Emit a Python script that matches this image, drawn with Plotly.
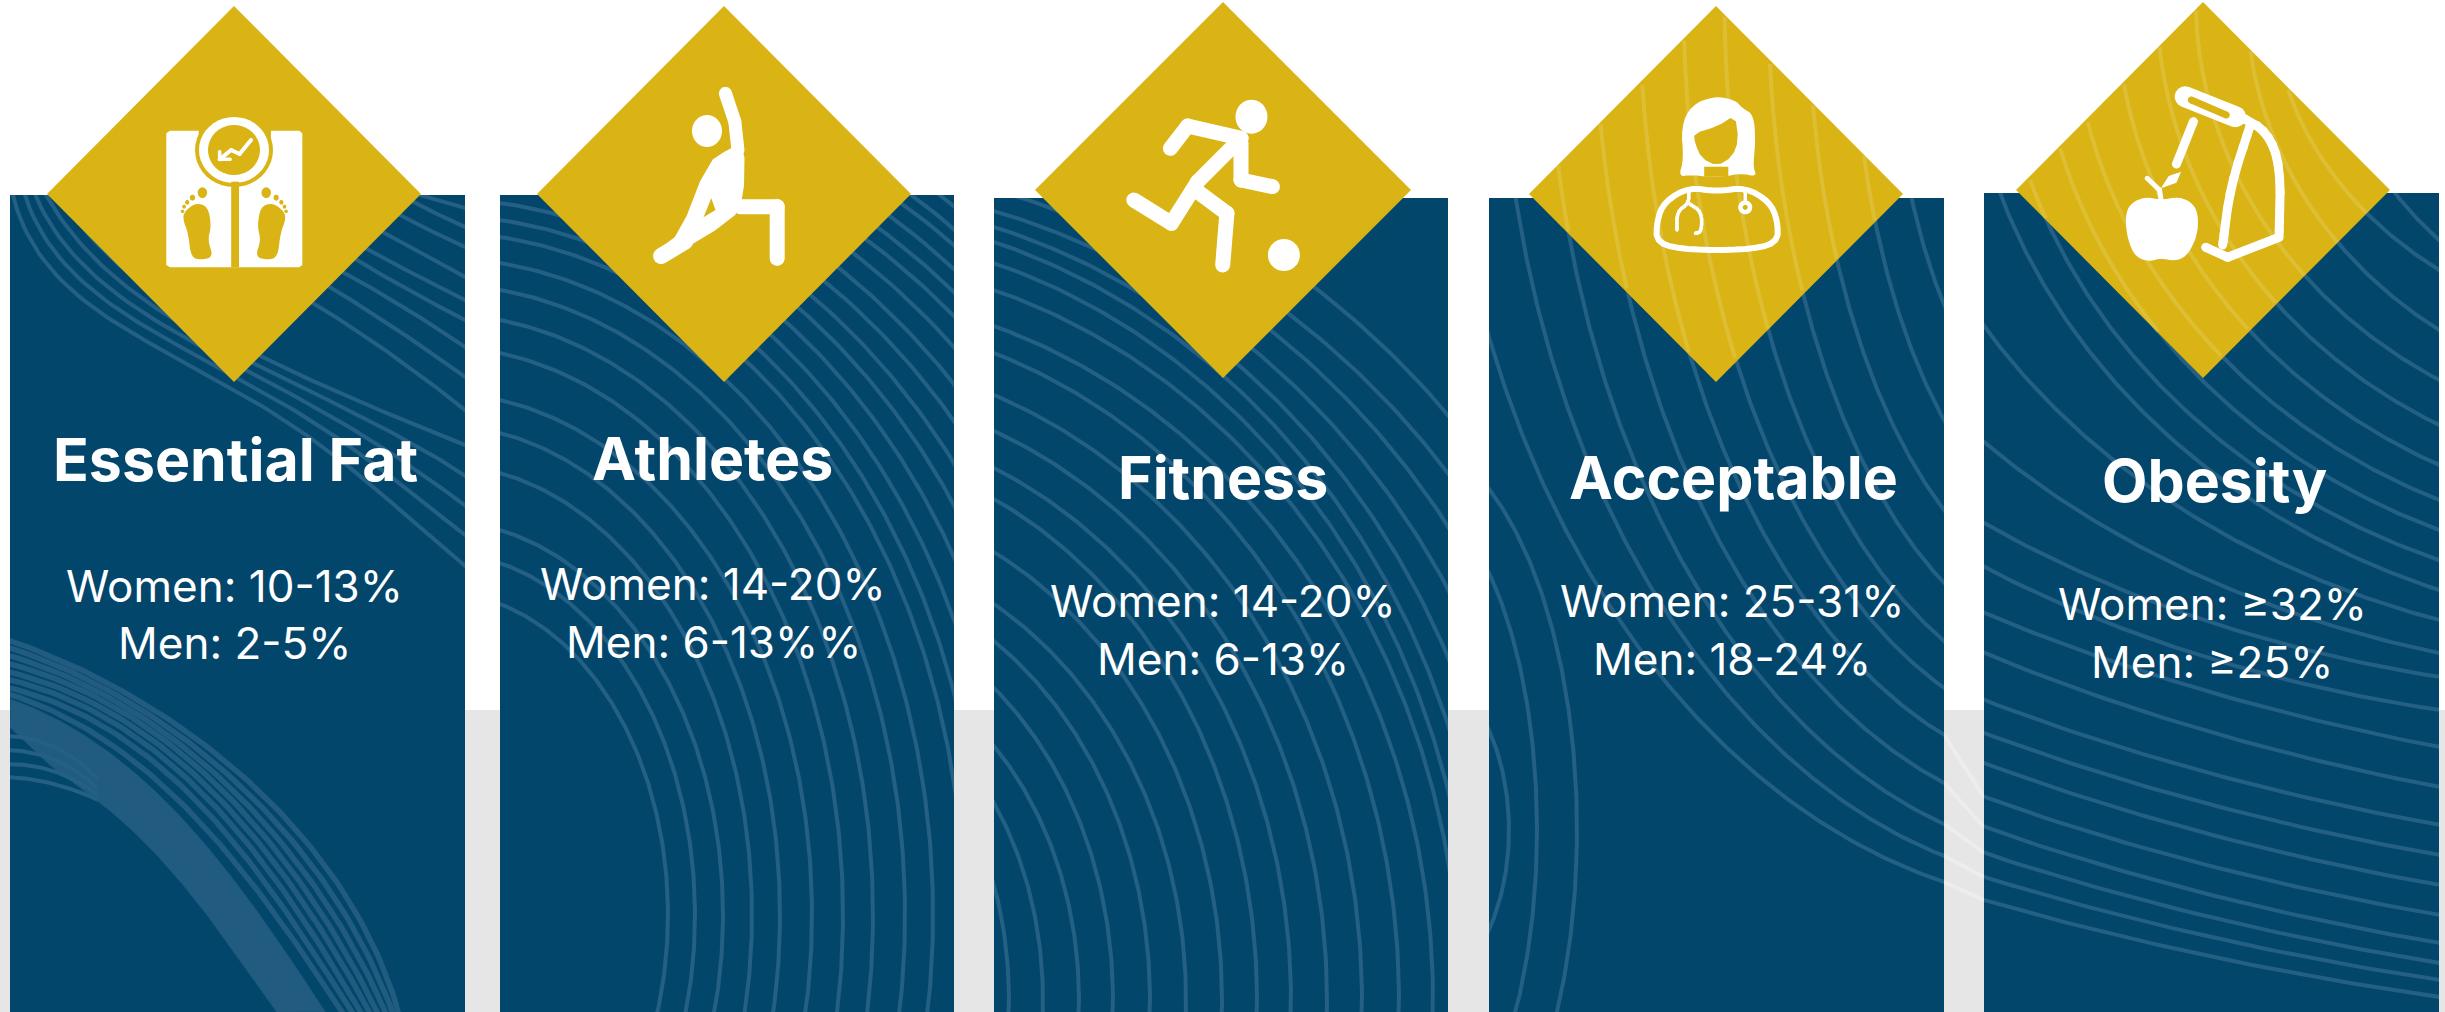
import numpy as np
import plotly.graph_objects as go

W, H = 2445, 1012
NAVY, STRIPE, RIBBON, GOLD, GREY, WHITE = "#03466C", "#245F84", "#215B7F", "#D9B414", "#E6E6E6", "#FFFFFF"
SHEEN = "rgba(255,255,255,0.14)"

categories = ["Essential Fat", "Athletes", "Fitness", "Acceptable", "Obesity"]
women = ["Women: 10-13%", "Women: 14-20%", "Women: 14-20%", "Women: 25-31%", "Women: ≥32%"]
men = ["Men: 2-5%", "Men: 6-13%%", "Men: 6-13%", "Men: 18-24%", "Men: ≥25%"]

panel_left = [10, 500, 994, 1489, 1984]
panel_right = [465, 954, 1448, 1944, 2439]
panel_top = [195, 195, 198, 198, 193]

diamond_cx = [234, 724, 1223, 1716, 2203]
diamond_cy = [194, 194, 190, 194, 190]
diamond_rx = [187, 187, 188, 187, 187]
diamond_ry = [188, 188, 188, 188, 188]

title_x = [235, 712, 1223, 1733, 2214]
title_base = [481, 480, 499, 499, 502]
body_x = [234, 713, 1223, 1732, 2212]
women_base = [602, 600, 617, 617, 620]
men_base = [659, 658, 675, 675, 678]

GREY_BAND_TOP = 710

# Free-form contours of the first column, as (x, y) anchors.
fat_upper = [
    [(10, 190), (43, 248), (93, 316), (167, 353), (233, 384), (333, 457), (465, 566)],
    [(22, 190), (55, 245), (105, 305), (175, 345), (245, 378), (345, 445), (465, 535)],
    [(32, 190), (66, 240), (115, 297), (185, 338), (260, 375), (360, 435), (465, 505)],
    [(42, 190), (78, 235), (125, 290), (195, 332), (275, 372), (375, 425), (465, 475)],
    [(55, 190), (90, 232), (135, 282), (205, 325), (290, 370), (390, 415), (465, 445)],
    [(300, 295), (385, 350), (465, 410)],
    [(310, 275), (390, 325), (465, 377)],
    [(330, 265), (400, 305), (465, 347)],
    [(340, 250), (405, 288), (465, 320)],
    [(350, 240), (410, 272), (465, 300)],
    [(370, 225), (420, 252), (465, 277)],
    [(380, 205), (425, 228), (465, 247)],
    [(400, 195), (435, 213), (465, 227)],
    [(420, 195), (445, 202), (465, 208)],
]
fat_ribbon = [
    [(10, 641), (100, 678), (200, 741), (300, 840), (367, 924), (397, 1012)],
    [(10, 648), (100, 686), (195, 745), (290, 845), (358, 928), (391, 1012)],
    [(10, 656), (95, 690), (190, 750), (282, 850), (350, 934), (384, 1012)],
    [(10, 664), (95, 697), (185, 754), (275, 855), (342, 940), (376, 1012)],
    [(10, 672), (90, 703), (180, 758), (267, 860), (335, 945), (368, 1012)],
    [(10, 680), (90, 710), (175, 765), (260, 865), (327, 950), (359, 1012)],
    [(10, 688), (85, 717), (170, 772), (252, 872), (320, 955), (350, 1012)],
    [(10, 695), (80, 724), (160, 782), (243, 877), (312, 960), (340, 1012)],
]
fat_tail = [
    [(10, 736), (50, 745), (94, 775)],
    [(10, 750), (50, 758), (94, 785)],
    [(10, 764), (50, 770), (94, 792)],
    [(10, 777), (50, 783), (94, 798)],
]
ribbon_inner = [(10, 700), (80, 730), (150, 790), (235, 880), (325, 1012)]
ribbon_outer = [(94, 798), (167, 866), (233, 950), (277, 1012)]
ribbon_tail = [(50, 765), (10, 727)]

# The other columns carry families of concentric arcs: a shared centre, then
# two points each arc passes through.
ATHLETE_CENTRE = (440, 915)
athlete_arcs = [
    ((500, 604), (668, 915)), ((500, 563), (695, 915)), ((500, 530), (723, 915)), ((500, 473), (752, 915)),
    ((500, 433), (780, 915)), ((500, 400), (812, 915)), ((500, 353), (843, 915)), ((500, 320), (873, 915)),
    ((500, 290), (905, 915)), ((500, 263), (933, 915)), ((500, 237), (954, 783)), ((500, 220), (954, 693)),
    ((500, 203), (954, 620)), ((500, 186), (954, 557)), ((500, 171), (954, 505)), ((500, 157), (954, 463)),
    ((500, 142), (954, 421)), ((500, 127), (954, 384)), ((500, 112), (954, 347)), ((500, 98), (954, 316)),
    ((500, 83), (954, 292)), ((500, 68), (954, 269)), ((500, 54), (954, 245)), ((500, 39), (954, 229)),
    ((500, 24), (954, 206)),
]

FITNESS_CENTRE = (800, 1000)
fitness_arcs = [
    ((994, 885), (1009, 1000)), ((994, 803), (1043, 1000)), ((994, 746), (1079, 1000)), ((994, 688), (1113, 1000)),
    ((994, 641), (1150, 1000)), ((994, 604), (1186, 1000)), ((994, 552), (1222, 1000)), ((994, 499), (1257, 1000)),
    ((994, 468), (1291, 1000)), ((994, 431), (1327, 1000)), ((994, 395), (1362, 1000)), ((994, 353), (1399, 1000)),
    ((994, 326), (1433, 1000)), ((994, 290), (1448, 860)), ((994, 263), (1448, 790)), ((994, 242), (1448, 725)),
    ((994, 227), (1448, 657)), ((994, 211), (1448, 589)), ((994, 190), (1448, 526)), ((994, 172), (1448, 473)),
    ((1318, 290), (1448, 415)),
]

ACCEPTABLE_INNER_CENTRE = (1400, 830)
acceptable_inner_arcs = [
    ((1489, 489), (1577, 830)), ((1489, 573), (1537, 830)), ((1489, 730), (1509, 830)),
]
ACCEPTABLE_CENTRE = (2100, 0)
acceptable_arcs = [
    ((1489, 337), (1944, 882)), ((1516, 200), (1944, 856)), ((1563, 200), (1944, 824)), ((1610, 200), (1944, 783)),
    ((1655, 200), (1944, 735)), ((1699, 200), (1944, 688)), ((1740, 200), (1944, 641)), ((1784, 200), (1944, 583)),
    ((1825, 200), (1944, 510)), ((1871, 200), (1944, 420)), ((1912, 200), (1944, 305)),
]

OBESITY_LOWER_CENTRE = (3000, -100)
obesity_lower_arcs = [
    ((1984, 900), (2439, 997)), ((1984, 877), (2439, 980)), ((1984, 853), (2439, 963)), ((1984, 827), (2439, 943)),
    ((1984, 797), (2439, 915)), ((1984, 763), (2439, 885)), ((1984, 733), (2439, 855)), ((1984, 700), (2439, 825)),
    ((1984, 653), (2439, 787)), ((1984, 613), (2439, 747)),
]
OBESITY_UPPER_CENTRE = (2700, 0)
obesity_upper_arcs = [
    ((1984, 567), (2439, 710)), ((1984, 523), (2439, 677)), ((1984, 442), (2439, 653)), ((1984, 326), (2439, 620)),
    ((2000, 193), (2439, 590)), ((2035, 193), (2439, 560)), ((2076, 193), (2439, 530)), ((2112, 193), (2439, 500)),
    ((2158, 193), (2439, 465)), ((2202, 193), (2439, 425)), ((2246, 193), (2439, 380)), ((2302, 193), (2439, 330)),
    ((2348, 193), (2439, 270)), ((2395, 193), (2439, 240)),
]

gap_lines = [
    [(1944, 882), (1984, 900)], [(1944, 856), (1984, 877)], [(1944, 824), (1984, 853)],
    [(1944, 783), (1984, 827)], [(1944, 735), (1984, 797)],
]

# ---------- curve and icon geometry helpers ----------
X_DIV_A, X_DIV_B, Y_DIV = 1.912, 1.948, 3.0
RIGHT_SWEEP = (-np.pi / 2, np.pi / 4)
LOWER_LEFT_SWEEP = (np.pi / 2, np.pi)


def arc(centre, p, q, sweep, n=260):
    """Sample the axis-aligned ellipse around centre that passes through p and q."""
    cx, cy = centre
    A = np.array([[(p[0] - cx) ** 2, (p[1] - cy) ** 2], [(q[0] - cx) ** 2, (q[1] - cy) ** 2]], dtype=float)
    u, v = np.linalg.solve(A, np.ones(2))
    a, b = 1 / np.sqrt(u), 1 / np.sqrt(v)
    t = np.linspace(sweep[0], sweep[1], n)
    return cx + a * np.cos(t), cy + b * np.sin(t)


def fair(curve, n=90, over=0.05):
    """Fair a stroke through its anchors with a low-order parametric fit."""
    p = np.array(curve, dtype=float)
    seg = np.hypot(*np.diff(p, axis=0).T)
    t = np.concatenate([[0], np.cumsum(seg)]) / seg.sum()
    deg = min(len(p) - 1, 4 if len(p) > 6 else 3)
    fx, fy = np.polyfit(t, p[:, 0], deg), np.polyfit(t, p[:, 1], deg)
    s = np.linspace(-over, 1 + over, n)
    return np.polyval(fx, s), np.polyval(fy, s)


def chaikin(pts, rounds=2, closed=True):
    """Round off the corners of an outline by corner cutting."""
    p = [tuple(q) for q in pts]
    for _ in range(rounds):
        out = []
        m = len(p)
        for k in range(m if closed else m - 1):
            a, b = p[k], p[(k + 1) % m]
            out.append((0.75 * a[0] + 0.25 * b[0], 0.75 * a[1] + 0.25 * b[1]))
            out.append((0.25 * a[0] + 0.75 * b[0], 0.25 * a[1] + 0.75 * b[1]))
        if not closed:
            out = [p[0]] + out + [p[-1]]
        p = out
    return p


def place(pts, ox, div):
    return [(ox + x / div, y / Y_DIV) for x, y in pts]


def path_of(pts, close=True):
    body = "L".join(f"{x:.1f},{y:.1f}" for x, y in pts)
    return "M" + body + ("Z" if close else "")


def ellipse_pts(cx, cy, rx, ry, n=40):
    t = np.linspace(0, 2 * np.pi, n, endpoint=False)
    return list(zip(cx + rx * np.cos(t), cy + ry * np.sin(t)))


def capsule_pts(p, q, w, n=10):
    ang = np.arctan2(q[1] - p[1], q[0] - p[0])
    r = w / 2
    a1 = np.linspace(ang + np.pi / 2, ang + 3 * np.pi / 2, n)
    a2 = np.linspace(ang - np.pi / 2, ang + np.pi / 2, n)
    out = [(p[0] + r * np.cos(a), p[1] + r * np.sin(a)) for a in a1]
    out += [(q[0] + r * np.cos(a), q[1] + r * np.sin(a)) for a in a2]
    return out


shapes_top = []


def solid(pts, color=WHITE):
    shapes_top.append(dict(type="path", path=path_of(pts), xref="x", yref="y", layer="above",
                           fillcolor=color, line=dict(width=0)))


def stroke(pts, w, color=WHITE):
    for a, b in zip(pts[:-1], pts[1:]):
        solid(capsule_pts(a, b, w), color)


def outline(pts, w, color=WHITE, close=True):
    shapes_top.append(dict(type="path", path=path_of(pts, close), xref="x", yref="y", layer="above",
                           line=dict(width=w, color=color)))


def inside_diamond(xs, ys, cx, cy, rx, ry):
    return [(x, y) for x, y in zip(xs, ys) if abs(x - cx) / rx + abs(y - cy) / ry <= 0.995]


# ---------- figure scaffold ----------
fig = go.Figure()
layout = dict(
    width=W, height=H, autosize=False, margin=dict(l=0, r=0, t=0, b=0, pad=0),
    paper_bgcolor=WHITE, plot_bgcolor="rgba(0,0,0,0)", showlegend=False, hovermode=False,
    xaxis=dict(domain=[0, 1], range=[0, W], visible=False, fixedrange=True),
    yaxis=dict(domain=[0, 1], range=[H, 0], visible=False, fixedrange=True),
)
fig.add_trace(go.Scatter(x=[0], y=[0], mode="markers", marker=dict(size=1, opacity=0), xaxis="x", yaxis="y"))

shapes = [dict(type="rect", x0=0, x1=W, y0=GREY_BAND_TOP, y1=H, xref="x", yref="y", layer="below",
               fillcolor=GREY, line=dict(width=0))]
for g in gap_lines:
    shapes.append(dict(type="path", path=path_of(g, False), xref="x", yref="y", layer="below",
                       line=dict(width=4, color="#EDEDED")))

acceptable_curves = [arc(ACCEPTABLE_CENTRE, p, q, LOWER_LEFT_SWEEP) for p, q in acceptable_arcs]
obesity_curves = ([arc(OBESITY_LOWER_CENTRE, p, q, LOWER_LEFT_SWEEP) for p, q in obesity_lower_arcs]
                  + [arc(OBESITY_UPPER_CENTRE, p, q, LOWER_LEFT_SWEEP) for p, q in obesity_upper_arcs])
column_curves = [
    [fair(c) for c in fat_upper] + [fair(c) for c in fat_tail],
    [arc(ATHLETE_CENTRE, p, q, RIGHT_SWEEP) for p, q in athlete_arcs],
    [arc(FITNESS_CENTRE, p, q, RIGHT_SWEEP) for p, q in fitness_arcs],
    [arc(ACCEPTABLE_INNER_CENTRE, p, q, RIGHT_SWEEP) for p, q in acceptable_inner_arcs] + acceptable_curves,
    obesity_curves,
]

for i in range(5):
    n = i + 2
    x0, x1, y0 = panel_left[i], panel_right[i], panel_top[i]
    layout[f"xaxis{n}"] = dict(domain=[x0 / W, x1 / W], range=[x0, x1], visible=False, fixedrange=True, anchor=f"y{n}")
    layout[f"yaxis{n}"] = dict(domain=[0, 1 - y0 / H], range=[H, y0], visible=False, fixedrange=True, anchor=f"x{n}")
    shapes.append(dict(type="rect", x0=x0, x1=x1, y0=y0, y1=H, xref=f"x{n}", yref=f"y{n}", layer="below",
                       fillcolor=NAVY, line=dict(width=0)))
    if i == 0:
        xi, yi = fair(ribbon_inner, over=0.0)
        xo, yo = fair(ribbon_outer, over=0.0)
        tx, ty = zip(*ribbon_tail)
        fig.add_trace(go.Scatter(x=list(xi) + list(xo[::-1]) + list(tx), y=list(yi) + list(yo[::-1]) + list(ty),
                                 mode="lines", fill="toself", fillcolor=RIBBON,
                                 line=dict(color=RIBBON, width=1), xaxis="x2", yaxis="y2", hoverinfo="skip"))
        for c in fat_ribbon:
            xs, ys = fair(c)
            fig.add_trace(go.Scatter(x=xs, y=ys, mode="lines", line=dict(color=RIBBON, width=5.5),
                                     xaxis="x2", yaxis="y2", hoverinfo="skip"))
    for xs, ys in column_curves[i]:
        fig.add_trace(go.Scatter(x=xs, y=ys, mode="lines", line=dict(color=STRIPE, width=4),
                                 xaxis=f"x{n}", yaxis=f"y{n}", hoverinfo="skip"))

# ---------- gold diamonds, with the contour sheen on the last two ----------
for i in range(5):
    cx, cy, rx, ry = diamond_cx[i], diamond_cy[i], diamond_rx[i], diamond_ry[i]
    solid([(cx, cy - ry), (cx + rx, cy), (cx, cy + ry), (cx - rx, cy)], GOLD)
for i, fam in ((3, acceptable_curves), (4, obesity_curves)):
    cx, cy, rx, ry = diamond_cx[i], diamond_cy[i], diamond_rx[i], diamond_ry[i]
    for xs, ys in fam:
        kept = inside_diamond(xs, ys, cx, cy, rx, ry)
        if len(kept) > 2:
            outline(kept, 4, SHEEN, close=False)

# ---------- bathroom scale ----------
ox, d = 0, X_DIV_A
rect = [(325, 392), (380, 392), (380, 420), (518, 420), (518, 392), (572, 392), (578, 400), (578, 795),
        (572, 802), (325, 802), (318, 795), (318, 400)]
solid(place(rect, ox, d))
solid(ellipse_pts(234, 150, 39, 37), GOLD)
solid(ellipse_pts(234, 150, 35, 33))
solid(ellipse_pts(234, 150, 26, 25), GOLD)
stroke(place([(480, 420), (458, 462), (442, 450), (420, 478)], ox, d), 4)
stroke(place([(420, 478), (440, 478)], ox, d), 3.5)
stroke(place([(420, 478), (420, 455)], ox, d), 3.5)
solid(place([(442, 545), (457, 545), (457, 802), (442, 802)], ox, d), GOLD)
foot = [(352, 635), (375, 608), (398, 620), (404, 680), (397, 720), (408, 770), (385, 780), (365, 772),
        (360, 700), (350, 660)]
toes = [(387, 578, 9, 16), (368, 593, 5, 9), (358, 607, 4, 7), (352, 620, 3.5, 6), (349, 634, 3.5, 5)]
solid(chaikin(place(foot, ox, d)), GOLD)
solid(chaikin(place([(896 - x, y) for x, y in foot], ox, d)), GOLD)
for x, y, rx, ry in toes:
    solid(ellipse_pts(x / d, y / 3, rx / d, ry / 3), GOLD)
    solid(ellipse_pts((896 - x) / d, y / 3, rx / d, ry / 3), GOLD)

# ---------- lunge figure ----------
solid(ellipse_pts(707, 131, 15, 16))
torso = [(1352, 490), (1300, 700), (1262, 745), (1268, 785), (1400, 660), (1422, 600), (1424, 430), (1395, 445)]
solid(chaikin(place(torso, 0, d), 1))
stroke(place([(1387, 280), (1405, 365), (1411, 450)], 0, d), 13)
stroke(place([(1415, 620), (1486, 620)], 0, d), 15)
stroke(place([(1486, 620), (1486, 775)], 0, d), 15)
stroke(place([(1264, 768), (1310, 725)], 0, d), 16)
solid(place([(1360, 595), (1345, 652), (1368, 630)], 0, d), GOLD)

# ---------- footballer ----------
ox = 820
solid(ellipse_pts(ox + 825 / d, 350 / 3, 16, 17))
solid(ellipse_pts(ox + 887 / d, 765 / 3, 16, 16))
stroke(place([(670, 445), (703, 378), (805, 415), (722, 545), (672, 670), (600, 600)], ox, d), 15)
stroke(place([(722, 575), (778, 640), (770, 795)], ox, d), 15)
stroke(place([(805, 430), (805, 540), (865, 560)], ox, d), 15)

# ---------- doctor ----------
ox, d = 1640, X_DIV_B
hair = [(145, 288), (185, 300), (200, 325), (222, 345), (225, 430), (220, 500), (228, 530), (195, 520), (165, 530),
        (130, 530), (100, 525), (75, 530), (85, 480), (80, 380), (100, 315)]
face = [(105, 400), (150, 380), (185, 345), (192, 420), (180, 470), (150, 498), (120, 475), (107, 430)]
solid(chaikin(place(hair, ox, d)))
solid(chaikin(place(face, ox, d), 1), GOLD)
solid(place([(125, 500), (172, 500), (172, 530), (125, 530)], ox, d), GOLD)
bust = [(95, 562), (48, 605), (33, 660), (32, 732), (100, 750), (200, 750), (268, 732), (268, 660),
        (252, 605), (205, 562), (150, 575)]
outline(chaikin(place(bust, ox, d)), 6)
stroke(chaikin(place([(95, 570), (95, 610), (72, 635), (72, 690)], ox, d), 2, False), 3.5)
stroke(chaikin(place([(95, 610), (120, 635), (120, 695), (108, 700)], ox, d), 2, False), 3.5)
stroke(place([(205, 570), (205, 610)], ox, d), 3.5)
solid(ellipse_pts(ox + 205 / d, 622 / 3, 7, 7))
solid(ellipse_pts(ox + 205 / d, 622 / 3, 2.5, 2.5), GOLD)

# ---------- apple and exercise frame ----------
apple = [(1015, 600), (1050, 590), (1078, 610), (1088, 650), (1085, 710), (1065, 770), (1040, 783), (1015, 775),
         (990, 785), (965, 770), (950, 720), (945, 650), (955, 610), (985, 590)]
solid(chaikin(place(apple, ox, d)))
stroke(place([(988, 535), (1012, 570), (1015, 600)], ox, d), 5)
solid(place([(1015, 565), (1030, 528), (1054, 515), (1045, 548)], ox, d))
stroke(place([(1062, 290), (1160, 350)], ox, d), 21)
stroke(place([(1074, 300), (1142, 345)], ox, d), 7, GOLD)
stroke(place([(1078, 365), (1045, 492)], ox, d), 9)
stroke(chaikin(place([(1170, 350), (1222, 395), (1248, 500), (1245, 705)], ox, d), 2, False), 9)
stroke(chaikin(place([(1190, 370), (1150, 560), (1135, 735)], ox, d), 2, False), 9)
stroke(place([(1102, 742), (1145, 772), (1245, 712)], ox, d), 9)

layout["shapes"] = shapes + shapes_top

# ---------- labels ----------
TITLE_SIZE, BODY_SIZE = 59, 44
annotations = []
for i in range(5):
    annotations.append(dict(x=title_x[i], y=title_base[i] - 0.36 * TITLE_SIZE, text=categories[i], xref="x", yref="y",
                            showarrow=False, xanchor="center", yanchor="middle",
                            font=dict(family="Inter", size=TITLE_SIZE, color=WHITE, weight=700)))
    annotations.append(dict(x=body_x[i], y=women_base[i] - 0.36 * BODY_SIZE, text=women[i], xref="x", yref="y",
                            showarrow=False, xanchor="center", yanchor="middle",
                            font=dict(family="Inter", size=BODY_SIZE, color=WHITE)))
    annotations.append(dict(x=body_x[i], y=men_base[i] - 0.36 * BODY_SIZE, text=men[i], xref="x", yref="y",
                            showarrow=False, xanchor="center", yanchor="middle",
                            font=dict(family="Inter", size=BODY_SIZE, color=WHITE)))
layout["annotations"] = annotations

fig.update_layout(**layout)
fig.write_html("out.html")
